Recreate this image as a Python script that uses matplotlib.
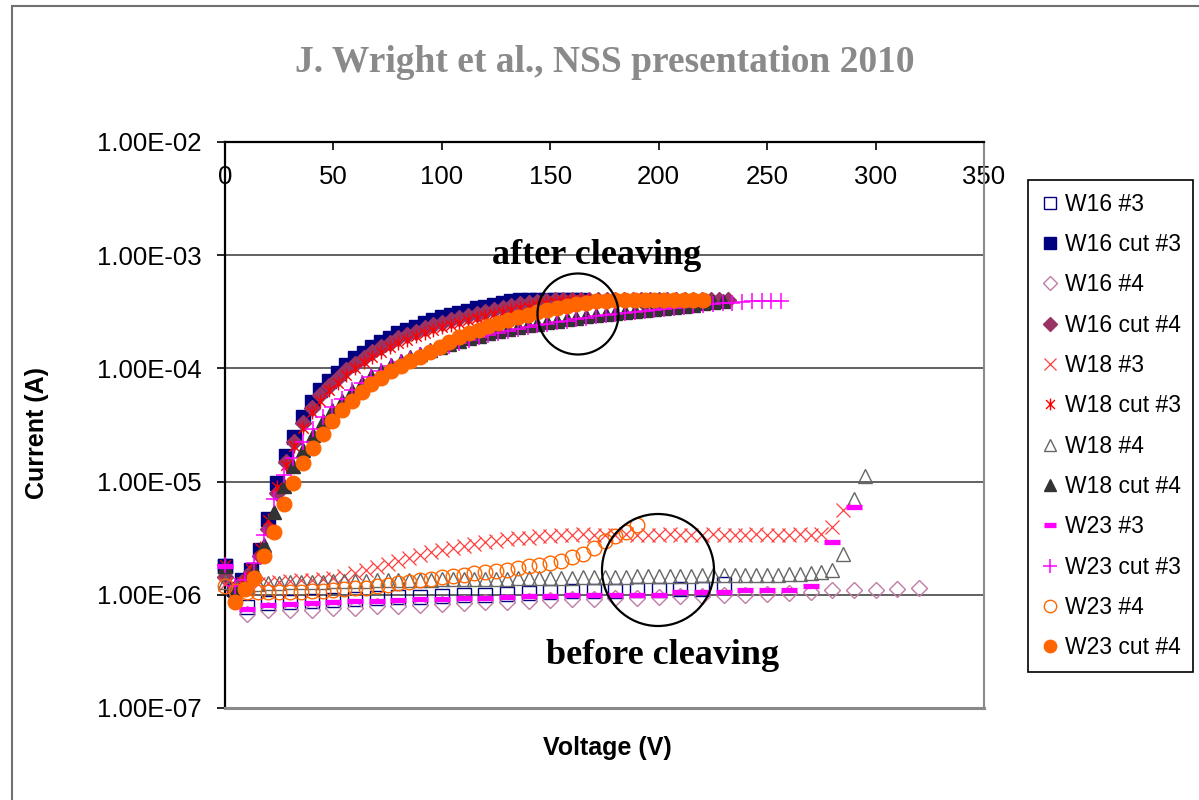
import matplotlib
matplotlib.use('Agg')
import matplotlib.pyplot as plt
from matplotlib.path import Path
from matplotlib.patches import Ellipse, Rectangle
from matplotlib.ticker import FixedLocator, FuncFormatter, NullLocator

plt.rcParams['font.family'] = ['Liberation Sans', 'DejaVu Sans']

# ---------------- data ----------------
# voltage sweeps (V)
V4 = [0, 4, 8, 12, 16, 20, 24, 28, 32, 36, 40, 44, 48, 52, 56, 60, 64, 68, 72, 76,
      80, 84, 88, 92, 96, 100, 104, 108, 112, 116, 120, 124, 128, 132, 136, 140, 144,
      148, 152, 156, 160, 164, 168, 172, 176, 180, 184, 188, 192, 196, 200, 204, 208,
      212, 216, 220, 224, 228, 232]
V45 = [0, 4.5, 9, 13.5, 18, 22.5, 27, 31.5, 36, 40.5, 45, 49.5, 54, 58.5, 63, 67.5,
       72, 76.5, 81, 85.5, 90, 94.5, 99, 103.5, 108, 112.5, 117, 121.5, 126, 130.5,
       135, 139.5, 144, 148.5, 153, 157.5, 162, 166.5, 171, 175.5, 180, 184.5, 189,
       193.5, 198, 202.5, 207, 211.5, 216, 220.5, 225, 229.5, 234, 238.5, 243, 247.5,
       252, 256.5]
V5 = [0, 5, 10, 15, 20, 25, 30, 35, 40, 45, 50, 55, 60, 65, 70, 75, 80, 85, 90, 95,
      100, 105, 110, 115, 120, 125, 130, 135, 140, 145, 150, 155, 160, 165, 170, 175,
      180, 185, 190, 195, 200, 205, 210, 215, 220, 225, 230, 235, 240, 245, 250, 255,
      260, 265, 270, 275, 280, 285, 290, 295]
V10 = [0, 10, 20, 30, 40, 50, 60, 70, 80, 90, 100, 110, 120, 130, 140, 150, 160, 170,
       180, 190, 200, 210, 220, 230, 240, 250, 260, 270, 280, 290, 300, 310, 320]

# currents (A)
I_W16_3 = [1.8e-6, 7.8e-7, 8.4e-7, 8.6e-7, 8.8e-7, 9.0e-7, 9.2e-7, 9.4e-7, 9.5e-7, 9.6e-7,
           9.8e-7, 9.9e-7, 1.0e-6, 1.02e-6, 1.03e-6, 1.05e-6, 1.07e-6, 1.08e-6, 1.09e-6,
           1.1e-6, 1.1e-6, 1.12e-6, 1.13e-6, 1.25e-6]
I_W16cut3 = [1.8e-6, 1.12e-6, 1.35e-6, 1.65e-6, 2.5e-6, 4.7e-6, 9.8e-6, 1.7e-5, 2.5e-5,
             3.7e-5, 5.0e-5, 6.4e-5, 7.8e-5, 9.1e-5, 1.07e-4, 1.23e-4, 1.38e-4, 1.55e-4,
             1.70e-4, 1.86e-4, 2.04e-4, 2.19e-4, 2.34e-4, 2.51e-4, 2.66e-4, 2.82e-4,
             2.95e-4, 3.09e-4, 3.24e-4, 3.39e-4, 3.5e-4, 3.63e-4, 3.76e-4, 3.9e-4,
             4.0e-4, 4.0e-4, 4.0e-4, 4.0e-4, 4.0e-4, 4.0e-4, 4.0e-4, 4.0e-4]
I_W16_4 = [1.45e-6, 6.7e-7, 7.3e-7, 7.3e-7, 7.4e-7, 7.6e-7, 7.7e-7, 7.9e-7, 8.0e-7, 8.2e-7,
           8.3e-7, 8.5e-7, 8.6e-7, 8.7e-7, 8.9e-7, 9.0e-7, 9.1e-7, 9.2e-7, 9.3e-7, 9.4e-7,
           9.5e-7, 9.7e-7, 9.8e-7, 1.0e-6, 1.0e-6, 1.02e-6, 1.04e-6, 1.05e-6, 1.1e-6,
           1.1e-6, 1.1e-6, 1.12e-6, 1.15e-6]
I_W16cut4 = [1.45e-6, 1.1e-6, 1.3e-6, 1.6e-6, 2.2e-6, 3.8e-6, 8.0e-6, 1.5e-5, 2.25e-5,
             3.3e-5, 4.5e-5, 5.8e-5, 7.0e-5, 8.2e-5, 9.6e-5, 1.1e-4, 1.24e-4, 1.4e-4,
             1.53e-4, 1.68e-4, 1.84e-4, 1.97e-4, 2.11e-4, 2.26e-4, 2.4e-4, 2.54e-4,
             2.66e-4, 2.78e-4, 2.92e-4, 3.05e-4, 3.17e-4, 3.3e-4, 3.42e-4, 3.55e-4,
             3.67e-4, 3.78e-4, 3.87e-4, 3.94e-4, 3.98e-4, 4.0e-4, 4.0e-4, 4.0e-4, 4.0e-4,
             4.0e-4, 4.0e-4, 4.0e-4, 4.0e-4, 4.0e-4, 4.0e-4, 4.0e-4, 4.0e-4, 4.0e-4,
             4.0e-4, 4.0e-4, 4.0e-4, 4.0e-4, 4.0e-4, 4.0e-4, 4.0e-4]
I_W18_3 = [1.25e-6, 1.2e-6, 1.22e-6, 1.25e-6, 1.28e-6, 1.3e-6, 1.32e-6, 1.34e-6, 1.36e-6,
           1.38e-6, 1.42e-6, 1.48e-6, 1.55e-6, 1.65e-6, 1.75e-6, 1.88e-6, 2.0e-6, 2.12e-6,
           2.25e-6, 2.38e-6, 2.5e-6, 2.6e-6, 2.7e-6, 2.8e-6, 2.9e-6, 3.0e-6, 3.1e-6,
           3.15e-6, 3.2e-6, 3.28e-6, 3.33e-6, 3.37e-6, 3.4e-6, 3.42e-6, 3.4e-6, 3.38e-6,
           3.4e-6, 3.42e-6, 3.4e-6, 3.38e-6, 3.4e-6, 3.41e-6, 3.4e-6, 3.38e-6, 3.4e-6,
           3.42e-6, 3.4e-6, 3.38e-6, 3.4e-6, 3.41e-6, 3.4e-6, 3.39e-6, 3.4e-6, 3.42e-6,
           3.4e-6, 3.45e-6, 4.0e-6, 5.6e-6]
I_W18cut3 = [1.85e-6, 1.15e-6, 1.3e-6, 1.7e-6, 2.6e-6, 4.6e-6, 9.0e-6, 1.4e-5, 2.05e-5,
             3.0e-5, 4.1e-5, 5.2e-5, 6.4e-5, 7.5e-5, 8.8e-5, 1.0e-4, 1.13e-4, 1.27e-4,
             1.39e-4, 1.53e-4, 1.67e-4, 1.8e-4, 1.92e-4, 2.06e-4, 2.18e-4, 2.31e-4,
             2.42e-4, 2.53e-4, 2.66e-4, 2.78e-4, 2.9e-4, 3.02e-4, 3.14e-4, 3.26e-4,
             3.4e-4, 3.52e-4, 3.64e-4, 3.75e-4, 3.85e-4, 3.93e-4, 3.98e-4, 4.0e-4,
             4.0e-4, 4.0e-4, 4.0e-4, 4.0e-4]
I_W18_4 = [1.3e-6, 1.15e-6, 1.2e-6, 1.25e-6, 1.27e-6, 1.28e-6, 1.29e-6, 1.3e-6, 1.3e-6,
           1.31e-6, 1.32e-6, 1.32e-6, 1.33e-6, 1.33e-6, 1.34e-6, 1.34e-6, 1.35e-6, 1.35e-6,
           1.36e-6, 1.36e-6, 1.37e-6, 1.37e-6, 1.38e-6, 1.38e-6, 1.38e-6, 1.39e-6, 1.39e-6,
           1.4e-6, 1.4e-6, 1.4e-6, 1.4e-6, 1.41e-6, 1.42e-6, 1.43e-6, 1.44e-6, 1.44e-6,
           1.45e-6, 1.45e-6, 1.46e-6, 1.46e-6, 1.47e-6, 1.47e-6, 1.48e-6, 1.48e-6, 1.49e-6,
           1.49e-6, 1.5e-6, 1.5e-6, 1.5e-6, 1.5e-6, 1.51e-6, 1.51e-6, 1.52e-6, 1.53e-6,
           1.55e-6, 1.58e-6, 1.65e-6, 2.3e-6, 7.0e-6, 1.12e-5]
I_W18cut4 = [1.8e-6, 1.1e-6, 1.25e-6, 1.65e-6, 2.75e-6, 5.4e-6, 9.1e-6, 1.38e-5, 1.9e-5,
             2.6e-5, 3.4e-5, 4.3e-5, 5.2e-5, 6.3e-5, 7.4e-5, 8.5e-5, 9.5e-5, 1.07e-4,
             1.17e-4, 1.26e-4, 1.35e-4, 1.45e-4, 1.55e-4, 1.64e-4, 1.74e-4, 1.84e-4,
             1.95e-4, 2.04e-4, 2.14e-4, 2.24e-4, 2.32e-4, 2.4e-4, 2.48e-4, 2.57e-4,
             2.64e-4, 2.72e-4, 2.8e-4, 2.88e-4, 2.95e-4, 3.02e-4, 3.09e-4, 3.16e-4,
             3.23e-4, 3.3e-4, 3.37e-4, 3.44e-4, 3.5e-4, 3.57e-4, 3.65e-4, 3.75e-4,
             3.85e-4, 3.92e-4]
I_W23_3 = [1.8e-6, 7.5e-7, 8.2e-7, 8.3e-7, 8.5e-7, 8.6e-7, 8.9e-7, 8.9e-7, 9.0e-7, 9.1e-7,
           9.2e-7, 9.3e-7, 9.4e-7, 9.5e-7, 9.7e-7, 9.8e-7, 1.0e-6, 1.0e-6, 1.0e-6, 1.0e-6,
           1.0e-6, 1.05e-6, 1.05e-6, 1.06e-6, 1.1e-6, 1.1e-6, 1.1e-6, 1.2e-6, 2.9e-6, 6.0e-6]
I_W23cut3 = [1.85e-6, 1.2e-6, 1.35e-6, 1.9e-6, 3.4e-6, 7.0e-6, 1.15e-5, 1.6e-5, 2.25e-5,
             2.9e-5, 3.7e-5, 4.55e-5, 5.4e-5, 6.4e-5, 7.4e-5, 8.4e-5, 9.4e-5, 1.04e-4,
             1.13e-4, 1.22e-4, 1.31e-4, 1.4e-4, 1.5e-4, 1.59e-4, 1.68e-4, 1.78e-4,
             1.88e-4, 1.97e-4, 2.06e-4, 2.15e-4, 2.24e-4, 2.32e-4, 2.4e-4, 2.48e-4,
             2.56e-4, 2.64e-4, 2.72e-4, 2.8e-4, 2.88e-4, 2.95e-4, 3.02e-4, 3.09e-4,
             3.16e-4, 3.23e-4, 3.3e-4, 3.37e-4, 3.44e-4, 3.5e-4, 3.57e-4, 3.63e-4,
             3.7e-4, 3.76e-4, 3.82e-4, 3.87e-4, 3.9e-4, 3.9e-4, 3.9e-4, 3.9e-4]
I_W23_4 = [1.19e-6, 1.08e-6, 1.05e-6, 1.05e-6, 1.05e-6, 1.05e-6, 1.06e-6, 1.06e-6, 1.07e-6,
           1.08e-6, 1.1e-6, 1.12e-6, 1.14e-6, 1.16e-6, 1.19e-6, 1.22e-6, 1.26e-6, 1.3e-6,
           1.34e-6, 1.38e-6, 1.43e-6, 1.47e-6, 1.51e-6, 1.55e-6, 1.59e-6, 1.63e-6, 1.66e-6,
           1.72e-6, 1.78e-6, 1.85e-6, 1.92e-6, 2.0e-6, 2.15e-6, 2.3e-6, 2.6e-6, 3.0e-6,
           3.3e-6, 3.6e-6, 4.1e-6]
I_W23cut4 = [8.6e-7, 1.12e-6, 1.42e-6, 2.2e-6, 3.6e-6, 6.3e-6, 9.8e-6, 1.45e-5, 2.0e-5,
             2.65e-5, 3.4e-5, 4.3e-5, 5.2e-5, 6.2e-5, 7.3e-5, 8.3e-5, 9.4e-5, 1.05e-4,
             1.16e-4, 1.27e-4, 1.4e-4, 1.54e-4, 1.7e-4, 1.88e-4, 2.05e-4, 2.2e-4, 2.36e-4,
             2.52e-4, 2.68e-4, 2.83e-4, 2.98e-4, 3.13e-4, 3.27e-4, 3.42e-4, 3.56e-4,
             3.68e-4, 3.8e-4, 3.9e-4, 3.97e-4, 4.0e-4, 4.0e-4, 4.0e-4, 4.0e-4, 4.0e-4,
             4.0e-4, 4.0e-4, 4.0e-4, 4.0e-4, 4.0e-4]

labels = ["W16 #3", "W16 cut #3", "W16 #4", "W16 cut #4", "W18 #3", "W18 cut #3",
          "W18 #4", "W18 cut #4", "W23 #3", "W23 cut #3", "W23 #4", "W23 cut #4"]
x_ticks = [0, 50, 100, 150, 200, 250, 300, 350]
y_ticks = [1e-7, 1e-6, 1e-5, 1e-4, 1e-3, 1e-2]

# ---------------- figure ----------------
W, H = 1199, 800
fig = plt.figure(figsize=(W / 100, H / 100), dpi=100)
fig.patch.set_facecolor('white')

# outer chart border
fig.add_artist(Rectangle((12.5 / W, -0.05), 1.2, 1 - 6 / H + 0.05, transform=fig.transFigure,
                         fill=False, edgecolor='#707070', lw=1.5))

ax_l, ax_r, ax_t, ax_b = 225, 984, 142, 708
ax = fig.add_axes([ax_l / W, 1 - ax_b / H, (ax_r - ax_l) / W, (ax_b - ax_t) / H])

star_path = Path([(0, -1), (0, 1), (-0.75, -0.75), (0.75, 0.75), (-0.75, 0.75), (0.75, -0.75)],
                 [Path.MOVETO, Path.LINETO, Path.MOVETO, Path.LINETO, Path.MOVETO, Path.LINETO])

series = [
    (V10, I_W16_3, dict(marker='s', ms=10, mfc='none', mec='#000080', mew=1.0)),
    (V4, I_W16cut3, dict(marker='s', ms=9.5, mfc='#000080', mec='#000080', mew=1.0)),
    (V10, I_W16_4, dict(marker='D', ms=8, mfc='none', mec='#C07CA4', mew=1.0)),
    (V4, I_W16cut4, dict(marker='D', ms=8.5, mfc='#993366', mec='#993366', mew=1.0)),
    (V5, I_W18_3, dict(marker='x', ms=10, mfc='none', mec='#FF4040', mew=0.9)),
    (V4, I_W18cut3, dict(marker=star_path, ms=10, mfc='none', mec='#FF0000', mew=1.0)),
    (V5, I_W18_4, dict(marker='^', ms=10.5, mfc='none', mec='#666666', mew=1.0)),
    (V45, I_W18cut4, dict(marker='^', ms=10.5, mfc='#333333', mec='#333333', mew=1.0)),
    (V10, I_W23_3, dict(marker='_', ms=11, mfc='#FF00FF', mec='#FF00FF', mew=3.8)),
    (V45, I_W23cut3, dict(marker='+', ms=11.5, mfc='#FF00FF', mec='#FF00FF', mew=1.1)),
    (V5, I_W23_4, dict(marker='o', ms=10.5, mfc='none', mec='#FF6600', mew=1.0)),
    (V45[1:], I_W23cut4, dict(marker='o', ms=10.5, mfc='#FF6600', mec='#FF6600', mew=1.0)),
]

for lab, (xs, ys, st) in zip(labels, series):
    ax.plot(xs[:len(ys)], ys, linestyle='none', label=lab, clip_on=False, zorder=3, **st)

ax.set_yscale('log')
ax.set_xlim(0, 350)
ax.set_ylim(1e-7, 1e-2)

ax.xaxis.set_major_locator(FixedLocator(x_ticks))
ax.xaxis.set_minor_locator(NullLocator())
ax.xaxis.tick_top()
ax.tick_params(axis='x', which='major', direction='in', length=6, width=1.2, color='black',
               top=True, bottom=False, labeltop=True, labelbottom=False,
               pad=-34, labelsize=18.5)

ax.yaxis.set_major_locator(FixedLocator(y_ticks))
ax.yaxis.set_minor_locator(NullLocator())
ax.yaxis.set_major_formatter(FuncFormatter(lambda v, p: f"{v:.2E}"))
ax.tick_params(axis='y', which='major', direction='out', length=6, width=1.2, color='black',
               pad=11, labelsize=18.5)

ax.set_axisbelow(True)
ax.yaxis.grid(True, color='#555555', lw=1.3)
ax.xaxis.grid(False)

for side in ['left', 'top']:
    ax.spines[side].set_color('black')
    ax.spines[side].set_linewidth(1.6)
ax.spines['right'].set_color('#8a8a8a')
ax.spines['right'].set_linewidth(1.5)
ax.spines['bottom'].set_color('#8a8a8a')
ax.spines['bottom'].set_linewidth(2.2)

# titles
fig.text(605 / W, 1 - 62 / H, "J. Wright et al., NSS presentation 2010", ha='center', va='center',
         family='Liberation Serif', weight='bold', size=27, color='#8a8a8a')
fig.text(37 / W, 1 - 433 / H, "Current (A)", rotation=90, ha='center', va='center',
         weight='bold', size=18)
fig.text(607 / W, 1 - 748 / H, "Voltage (V)", ha='center', va='center',
         weight='bold', size=18)

# annotations
aw, ah = ax_r - ax_l, ax_b - ax_t
def ax_frac(px, py):
    return ((px - ax_l) / aw, (ax_b - py) / ah)

ax.text(*ax_frac(597, 255), "after cleaving", transform=ax.transAxes, ha='center', va='center',
        family='Liberation Serif', weight='bold', size=26, zorder=6)
ax.text(*ax_frac(663, 655), "before cleaving", transform=ax.transAxes, ha='center', va='center',
        family='Liberation Serif', weight='bold', size=26, zorder=6)
for (cx, cy, r) in [(578, 314, 40.5), (658, 570, 56)]:
    ax.add_patch(Ellipse(ax_frac(cx, cy), 2 * r / aw, 2 * r / ah, transform=ax.transAxes,
                         fill=False, ec='black', lw=1.6, zorder=7, clip_on=False))

leg = ax.legend(loc='upper left', bbox_to_anchor=(1028 / W, 1 - 180 / H),
                bbox_transform=fig.transFigure, borderaxespad=0, frameon=True,
                fancybox=False, edgecolor='black', framealpha=1,
                prop={'family': 'Liberation Sans', 'size': 16.5},
                labelspacing=0.757, handlelength=0.8, handletextpad=0.25,
                borderpad=0.55, numpoints=1, markerscale=0.85)
leg.get_frame().set_linewidth(1.2)

fig.savefig('out.png', dpi=100)
